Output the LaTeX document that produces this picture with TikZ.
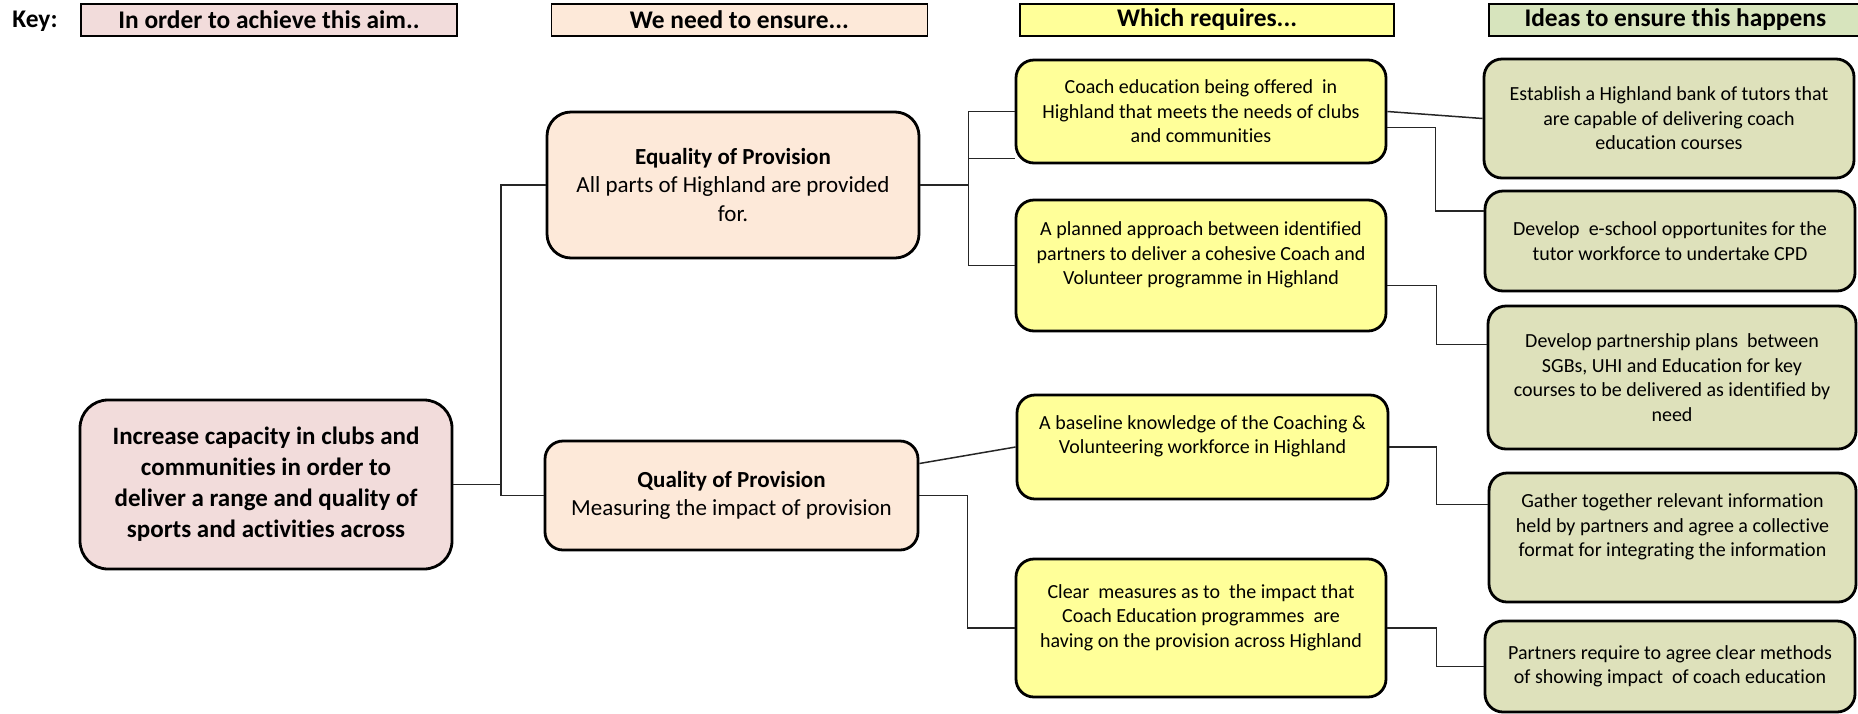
\documentclass[tikz,border=0pt]{standalone}
\usepackage{fontspec}
\setmainfont{Carlito}[Ligatures=NoCommon]
\usetikzlibrary{positioning}
\definecolor{aimpink}{RGB}{242,220,219}
\definecolor{ensurepeach}{RGB}{253,233,217}
\definecolor{needyellow}{RGB}{255,255,153}
\definecolor{keygreen}{RGB}{215,228,189}
\definecolor{ideagreen}{RGB}{222,225,187}

\begin{document}
\begin{tikzpicture}[
		x=0.5pt, y=-0.5pt,
		keybox/.style={
				rectangle,
				draw=black,
				line width=0.7pt,
				minimum height=16pt,
				inner sep=0pt,
				font=\fontsize{12.7}{15}\selectfont\bfseries,
			},
		box/.style={
				rectangle,
				draw=black,
				line width=1.4pt,
				align=center,
				inner sep=2pt,
			},
		aimbox/.style={box, fill=aimpink, rounded corners=14pt, minimum width=186pt,
				font=\fontsize{12.5}{15.5}\selectfont\bfseries},
		ensurebox/.style={box, fill=ensurepeach, minimum width=186pt,
				font=\fontsize{11.5}{14.1}\selectfont},
		needbox/.style={box, fill=needyellow, rounded corners=9pt, minimum width=185pt,
				font=\fontsize{10}{12.25}\selectfont},
		ideabox/.style={needbox, fill=ideagreen},
		link/.style={draw=black!85, line width=0.75pt},
	]
	\useasboundingbox (0,0) rectangle (1858,713);

	% Key row
	\node[font=\fontsize{12.7}{15}\selectfont\bfseries] (key) at (35,21) {Key:};
	\node[keybox, fill=aimpink, minimum width=188pt] (aimkey) at (269,20) {In order to achieve this aim..};
	\node[keybox, fill=ensurepeach, minimum width=188pt, right=46.5pt of aimkey] (ensurekey) {We need to ensure...};
	\node[keybox, fill=needyellow, line width=1pt, minimum width=187pt, right=45.5pt of ensurekey] (needkey) {Which requires...};
	\node[keybox, fill=keygreen, minimum width=186.5pt, right=46.5pt of needkey] (ideakey) {Ideas to ensure this happens};

	% Aim
	\node[aimbox, minimum height=84.5pt] (aim) at (266,484.5) {
		Increase capacity in clubs and \\
		communities in order to        \\
		deliver a range and quality of \\
		sports and activities across
	};

	% We need to ensure
	\node[ensurebox, rounded corners=12pt, minimum height=73pt] (equality) at (733,185) {
		\textbf{Equality of Provision}     \\
		All parts of Highland are provided \\
		for.
	};
	\node[ensurebox, rounded corners=9pt, minimum width=186.5pt, minimum height=54.5pt] (quality) at (731.5,495.5) {
		\textbf{Quality of Provision} \\
		Measuring the impact of provision
	};

	% Which requires
	\node[needbox, minimum height=51.5pt] (coached) at (1201,111.5) {
		Coach education being offered\ \ in   \\
		Highland that meets the needs of clubs \\
		and communities
	};
	\node[needbox, minimum height=65.5pt] (planned) at (1201,265.5) {
		A planned approach between identified   \\
		partners to deliver a cohesive Coach and \\
		Volunteer programme in Highland          \\ ~
	};
	\node[needbox, minimum width=185.5pt, minimum height=52pt] (baseline) at (1202.5,447) {
		A baseline knowledge of the Coaching \& \\
		Volunteering workforce in Highland      \\ ~
	};
	\node[needbox, minimum height=69pt] (measures) at (1201,628) {
		Clear\ \ measures as to\ \ the impact that \\
		Coach Education programmes\ \ are         \\
		having on the provision across Highland    \\ ~
	};

	% Ideas
	\node[ideabox, minimum height=59.5pt] (tutors) at (1669,118.5) {
		Establish a Highland bank of tutors that \\
		are capable of delivering coach          \\
		education courses
	};
	\node[ideabox, minimum height=50pt] (eschool) at (1670,241) {
		Develop\ \ e-school opportunites for the \\
		tutor workforce to undertake CPD
	};
	\node[ideabox, minimum width=184pt, minimum height=71.5pt] (partnership) at (1672,377.5) {
		Develop partnership plans\ \ between     \\
		SGBs, UHI and Education for key          \\
		courses to be delivered as identified by \\
		need
	};
	\node[ideabox, minimum width=183.5pt, minimum height=64.5pt] (gather) at (1672.5,537.5) {
		Gather together relevant information   \\
		held by partners and agree a collective \\
		format for integrating the information  \\ ~
	};
	\node[ideabox, minimum height=45.5pt] (methods) at (1670,666.5) {
		Partners require to agree clear methods \\
		of showing impact\ \ of coach education
	};

	% Connections
	\draw[link] (aim.east) -- ++(23.75pt,0) |- (equality.west);
	\draw[link] (aim.east) -- ++(23.75pt,0) |- (quality.west);
	\draw[link] (equality.east) -- ++(24pt,0) |- (coached.west);
	\draw[link] (equality.east) -- ++(24pt,0) |- ([yshift=3pt]coached.south west);
	\draw[link] (equality.east) -- ++(24pt,0) |- (planned.west);
	\draw[link] ([yshift=16pt]quality.east) -- (baseline.west);
	\draw[link] (quality.east) -- ++(24pt,0) |- (measures.west);
	\draw[link] (coached.east) -- (tutors.west);
	\draw[link] ([yshift=-8pt]coached.east) -- ++(24pt,0) |- ([yshift=15pt]eschool.west);
	\draw[link] ([yshift=-10pt]planned.east) -- ++(24.5pt,0) |- ([yshift=16.5pt]partnership.west);
	\draw[link] (baseline.east) -- ++(23.5pt,0) |- ([yshift=16.5pt]gather.west);
	\draw[link] (measures.east) -- ++(24.5pt,0) |- (methods.west);

\end{tikzpicture}
\end{document}
